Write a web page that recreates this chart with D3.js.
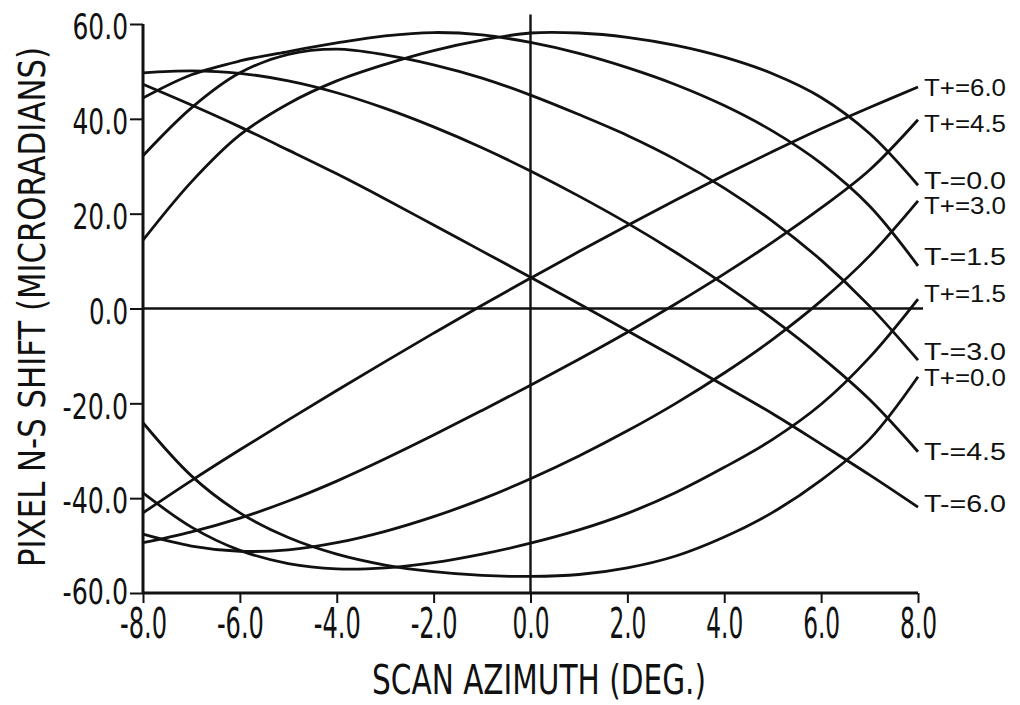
<!DOCTYPE html>
<html>
<head>
<meta charset="utf-8">
<script src="https://cdn.jsdelivr.net/npm/d3@7"></script>
<style>
  body { margin: 0; background: #fff; }
  svg { display: block; }
</style>
</head>
<body>
<div id="chart"></div>
<script>
// scan azimuth (deg) where every curve was read
const azimuth = [-8, -7, -6, -5, -4, -3, -2, -1, 0, 1, 2, 3, 4, 5, 6, 7, 8];

// pixel N-S shift (microradians)
const tPlus60  = [-43.1, -36.3, -29.8, -23.5, -17.3, -11.2, -5.2, 0.7, 6.4, 12.0, 17.5, 22.9, 28.1, 33.1, 37.9, 42.4, 46.7];
const tPlus45  = [-49.4, -47.1, -44.2, -40.6, -36.4, -31.7, -26.7, -21.5, -16.2, -10.7, -5.0, 1.0, 7.3, 14.0, 21.2, 29.2, 39.8];
const tPlus30  = [-47.6, -50.1, -51.2, -50.9, -49.4, -47.0, -43.9, -40.2, -35.9, -31.1, -25.8, -20.0, -13.6, -6.5, 1.6, 11.1, 22.7];
const tPlus15  = [-38.9, -46.1, -51.0, -53.8, -54.9, -54.7, -53.6, -51.8, -49.5, -46.7, -43.2, -38.8, -33.5, -27.6, -20.2, -10.3, 2.0];
const tPlus00  = [-24.1, -35.3, -43.1, -48.3, -51.8, -54.1, -55.5, -56.3, -56.5, -56.1, -54.7, -52.2, -48.2, -43.0, -36.2, -27.6, -14.4];
const tMinus00 = [14.4, 26.7, 36.6, 43.2, 48.0, 51.5, 54.4, 56.6, 58.1, 58.1, 57.2, 55.5, 53.0, 49.5, 44.5, 36.9, 26.0];
const tMinus15 = [44.4, 49.3, 52.2, 54.2, 56.0, 57.5, 58.2, 57.7, 56.1, 53.8, 50.8, 47.2, 42.8, 37.4, 30.6, 21.6, 9.0];
const tMinus30 = [32.2, 42.3, 49.7, 53.6, 54.7, 53.5, 51.4, 48.6, 45.0, 40.9, 36.5, 31.4, 25.4, 18.4, 10.2, 0.5, -10.9];
const tMinus45 = [49.7, 50.1, 49.6, 48.0, 45.5, 42.2, 38.3, 33.9, 29.0, 23.7, 18.0, 11.8, 5.1, -2.2, -10.2, -19.2, -30.2];
const tMinus60 = [47.3, 42.9, 38.3, 33.4, 28.4, 23.1, 17.6, 12.1, 6.6, 1.0, -4.7, -10.4, -16.3, -22.2, -28.6, -35.1, -41.9];

const seriesNames  = ["T+=6.0", "T+=4.5", "T-=0.0", "T+=3.0", "T-=1.5", "T+=1.5", "T-=3.0", "T+=0.0", "T-=4.5", "T-=6.0"];
const seriesValues = [tPlus60, tPlus45, tMinus00, tPlus30, tMinus15, tPlus15, tMinus30, tPlus00, tMinus45, tMinus60];

const xTicks = [-8, -6, -4, -2, 0, 2, 4, 6, 8];
const yTicks = [-60, -40, -20, 0, 20, 40, 60];

// vertical nudges for the end labels (pixels)
const labelNudge = [0, 4, -5, 4, -9, -6, -9, 1, 0, -4];

var width = 1020, height = 705;
var ink = "#111";
var narrow = "'Liberation Sans Narrow', 'DejaVu Sans Condensed', 'Liberation Sans', sans-serif";

var svg = d3.select("#chart").append("svg")
    .attr("width", width)
    .attr("height", height);

var x = d3.scaleLinear().domain([-8, 8]).range([143, 918]);
var y = d3.scaleLinear().domain([-60, 60]).range([593, 24]);

// rough width of a tick label so the condensed lettering fits
function labelWidth(s, digit) {
  var w = 0;
  for (var c of s) w += (c === ".") ? 6 : (c === "-") ? 10 : digit;
  return w;
}

// zero lines
svg.append("line")
    .attr("x1", x(-8)).attr("x2", x(8) + 5)
    .attr("y1", y(0)).attr("y2", y(0))
    .attr("stroke", ink).attr("stroke-width", 2.4);
svg.append("line")
    .attr("x1", x(0)).attr("x2", x(0))
    .attr("y1", y(62)).attr("y2", y(-60))
    .attr("stroke", ink).attr("stroke-width", 2.4);

// Y axis
var yAxis = svg.append("g")
    .attr("transform", "translate(" + x(-8) + ",0)")
    .call(d3.axisLeft(y).tickValues(yTicks).tickSize(13).tickPadding(2)
      .tickFormat(d => d.toFixed(1)));
yAxis.select(".domain").attr("stroke", ink).attr("stroke-width", 3)
    .attr("d", "M0," + y(60) + "V" + y(-60));
yAxis.selectAll(".tick line").attr("stroke", ink).attr("stroke-width", 2);
yAxis.selectAll(".tick text")
    .attr("fill", ink)
    .style("font-family", narrow)
    .style("font-size", "35px")
    .attr("dy", d => d === -60 ? "0.3em" : "0.42em")
    .attr("textLength", d => labelWidth(d.toFixed(1), 16.5))
    .attr("lengthAdjust", "spacingAndGlyphs");

// X axis
var xAxis = svg.append("g")
    .attr("transform", "translate(0," + y(-60) + ")")
    .call(d3.axisBottom(x).tickValues(xTicks).tickSize(10).tickPadding(5)
      .tickFormat(d => d.toFixed(1)));
xAxis.select(".domain").attr("stroke", ink).attr("stroke-width", 3)
    .attr("d", "M" + x(-8) + ",0H" + x(8));
xAxis.selectAll(".tick line").attr("stroke", ink).attr("stroke-width", 2);
xAxis.selectAll(".tick text")
    .attr("fill", ink)
    .style("font-family", narrow)
    .style("font-size", "42px")
    .attr("dy", "0.71em")
    .attr("textLength", d => labelWidth(d.toFixed(1), 15.5))
    .attr("lengthAdjust", "spacingAndGlyphs");

// curves
var line = d3.line()
    .x((d, i) => x(azimuth[i]))
    .y(d => y(d))
    .curve(d3.curveCatmullRom.alpha(0.5));

svg.append("g").selectAll("path")
    .data(seriesValues)
  .enter().append("path")
    .attr("d", line)
    .attr("fill", "none")
    .attr("stroke", ink)
    .attr("stroke-width", 2.8);

// end labels
svg.append("g").selectAll("text")
    .data(seriesNames)
  .enter().append("text")
    .attr("x", x(8) + 6)
    .attr("y", (d, i) => y(seriesValues[i][seriesValues[i].length - 1]) + labelNudge[i])
    .attr("dy", "0.36em")
    .attr("fill", ink)
    .style("font-family", "'Liberation Sans', Arial, sans-serif")
    .style("font-size", "24px")
    .attr("textLength", 82)
    .attr("lengthAdjust", "spacingAndGlyphs")
    .text(d => d);

// axis titles
svg.append("text")
    .attr("x", 539)
    .attr("y", 694)
    .attr("text-anchor", "middle")
    .attr("fill", ink)
    .style("font-family", narrow)
    .style("font-size", "40px")
    .attr("textLength", 334)
    .attr("lengthAdjust", "spacingAndGlyphs")
    .text("SCAN AZIMUTH (DEG.)");

svg.append("text")
    .attr("transform", "translate(45,307) rotate(-90)")
    .attr("text-anchor", "middle")
    .attr("fill", ink)
    .style("font-family", narrow)
    .style("font-size", "37px")
    .attr("textLength", 520)
    .attr("lengthAdjust", "spacingAndGlyphs")
    .text("PIXEL N-S SHIFT (MICRORADIANS)");
</script>
</body>
</html>
